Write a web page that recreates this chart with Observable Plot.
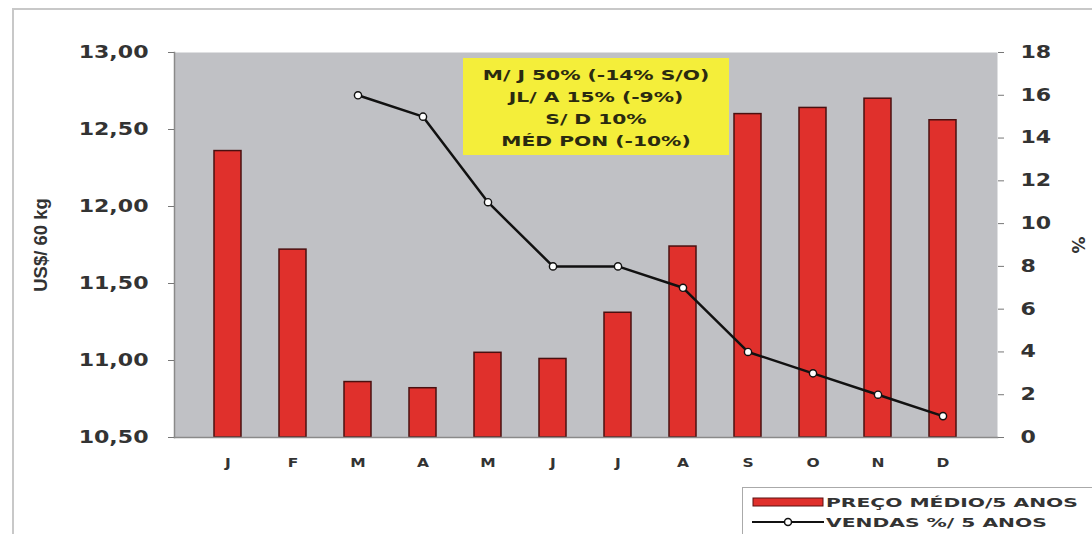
<!DOCTYPE html>
<html><head><meta charset="utf-8">
<script src="https://cdn.jsdelivr.net/npm/d3@7"></script>
<script src="https://cdn.jsdelivr.net/npm/@observablehq/plot@0.6"></script>
<style>
body{margin:0;background:#fff;font-family:"DejaVu Sans",sans-serif;}
#wrap{position:relative;width:1092px;height:534px;overflow:hidden;}
#frame{position:absolute;left:12px;top:8px;width:1100px;height:600px;border:2px solid #c8c8c8;box-sizing:border-box;}
#chart{position:absolute;left:0;top:0;}
#note{position:absolute;left:463px;top:58px;width:266px;height:97px;background:#f4ee3a;box-sizing:border-box;padding-top:6px;}
#note div{font-weight:bold;font-size:13.5px;line-height:22px;color:#2a2a10;text-align:center;transform:scaleX(1.5);transform-origin:center;white-space:nowrap;}
#legend{position:absolute;left:742px;top:487px;width:400px;height:80px;border:1.5px solid #aaa;background:#fff;}
.row{position:absolute;left:9px;height:18px;display:flex;align-items:center;}
.row span{font-weight:bold;font-size:12.5px;color:#333;display:inline-block;transform:scaleX(1.62);transform-origin:left center;white-space:nowrap;margin-left:2px;}
</style></head>
<body>
<div id="wrap">
<div id="frame"></div>
<div id="chart"></div>
<div id="note"><div>M/ J 50% (-14% S/O)</div><div>JL/ A 15% (-9%)</div><div>S/ D 10%</div><div>MÉD PON (-10%)</div></div>
<div id="legend">
 <div class="row" style="top:5px"><svg width="72" height="14"><rect x="1" y="3" width="70" height="8" fill="#e0302c" stroke="#5a1010" stroke-width="1"/></svg><span>PREÇO MÉDIO/5 ANOS</span></div>
 <div class="row" style="top:25px"><svg width="72" height="14"><line x1="0" x2="72" y1="7" y2="7" stroke="#111" stroke-width="2"/><circle cx="36" cy="7" r="3.5" fill="#fff" stroke="#111" stroke-width="1.5"/></svg><span>VENDAS %/ 5 ANOS</span></div>
</div>
</div>
<script>
const months = ["J","F","M","A","M","J","J","A","S","O","N","D"];
const price = [12.36, 11.72, 10.86, 10.82, 11.05, 11.01, 11.31, 11.74, 12.60, 12.64, 12.70, 12.56];
const sales = [null, null, 16, 15, 11, 8, 8, 7, 4, 3, 2, 1];
const leftTicks = [10.5, 11, 11.5, 12, 12.5, 13];
const rightTicks = [0, 2, 4, 6, 8, 10, 12, 14, 16, 18];

const yMin = 10.5, yMax = 13, pMax = 18;
const conv = p => yMin + p * (yMax - yMin) / pMax;

const idx = months.map((_, i) => i);
const bars = idx.map(i => ({i, price: price[i]}));
const pts = idx.filter(i => sales[i] != null).map(i => ({i, v: conv(sales[i])}));

const fmt = v => v.toFixed(2).replace(".", ",");
const font = "DejaVu Sans, sans-serif";

const plot = Plot.plot({
  width: 1092, height: 534,
  marginLeft: 174, marginRight: 95, marginTop: 52, marginBottom: 97,
  style: {fontFamily: font, background: "transparent", overflow: "visible"},
  x: {type: "band", domain: idx, padding: 0.58, align: 0.5},
  y: {domain: [yMin, yMax]},
  marks: [
    Plot.frame({fill: "#c0c1c5", stroke: "none"}),
    Plot.frame({anchor: "left", stroke: "#8a8a8a", strokeWidth: 1.5}),
    Plot.barY(bars, {x: "i", y1: yMin, y2: "price", fill: "#e0302c", stroke: "#4a1010", strokeWidth: 1.5}),
    Plot.frame({anchor: "bottom", stroke: "#8a8a8a", strokeWidth: 1.5}),
    Plot.line(pts, {x: "i", y: "v", stroke: "#111", strokeWidth: 2.5}),
    Plot.dot(pts, {x: "i", y: "v", r: 3.6, fill: "#fff", stroke: "#111", strokeWidth: 1.4}),
    Plot.axisY({anchor: "left", ticks: leftTicks, tickFormat: fmt, tickSize: 6, tickPadding: 20, fontSize: 17, fontWeight: "bold", fill: "#333", stroke: "#777", label: null}),
    Plot.axisY({anchor: "right", ticks: rightTicks.map(conv), tickFormat: v => Math.round((v - yMin) * pMax / (yMax - yMin)), tickSize: 6, tickPadding: 17, fontSize: 17, fontWeight: "bold", fill: "#333", stroke: "#777", label: null, textAnchor: "start"}),
    Plot.axisX({ticks: idx, tickFormat: i => months[i], tickSize: 0, tickPadding: 21, fontSize: 11.5, fontWeight: "bold", fill: "#333", label: null}),
    Plot.text(["US$/ 60 kg"], {frameAnchor: "left", dx: -133, rotate: -90, textAnchor: "middle", fontSize: 18.5, fontWeight: "bold", fill: "#333", fontFamily: "Liberation Sans, sans-serif"}),
    Plot.text(["%"], {frameAnchor: "right", dx: 80, rotate: 90, textAnchor: "middle", fontSize: 17, fontWeight: "bold", fill: "#333"})
  ]
});
document.getElementById("chart").appendChild(plot);

// widen tick labels to match the stretched lettering of the original
const sel = d3.select(plot).selectAll('g[aria-label="y-axis tick label"] text, g[aria-label="x-axis tick label"] text');
sel.each(function() {
  const t = this;
  const sx = t.closest('g[aria-label="x-axis tick label"]') ? 1.35 : 1.3;
  let tr = t.getAttribute("transform") || "";
  if (t.hasAttribute("x")) {
    const x = +t.getAttribute("x") || 0;
    tr += ` translate(${x},0)`; t.removeAttribute("x");
  }
  t.setAttribute("transform", (tr + ` scale(${sx},1)`).trim());
});
</script>
</body></html>
